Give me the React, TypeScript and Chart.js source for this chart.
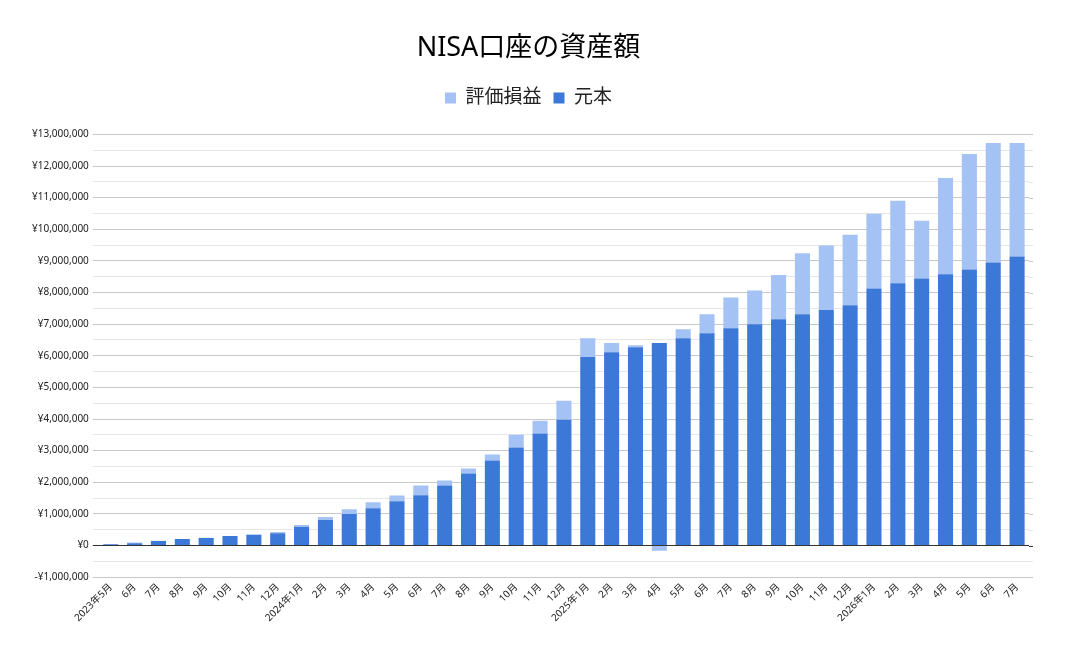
import React, { useRef, useEffect } from 'react';
import { Chart, registerables } from 'chart.js';

Chart.register(...registerables);

const months: string[] = [
  '2023年5月', '6月', '7月', '8月', '9月', '10月', '11月', '12月',
  '2024年1月', '2月', '3月', '4月', '5月', '6月', '7月', '8月', '9月', '10月', '11月', '12月',
  '2025年1月', '2月', '3月', '4月', '5月', '6月', '7月', '8月', '9月', '10月', '11月', '12月',
  '2026年1月', '2月', '3月', '4月', '5月', '6月', '7月',
];

// 元本 (principal)
const principal: number[] = [
  40000, 75000, 145000, 205000, 240000, 300000, 330000, 390000,
  590000, 810000, 1000000, 1180000, 1400000, 1590000, 1900000, 2280000, 2690000, 3100000, 3540000, 3980000,
  5960000, 6115000, 6270000, 6400000, 6555000, 6715000, 6870000, 7000000, 7155000, 7310000, 7450000, 7600000,
  8130000, 8290000, 8445000, 8575000, 8730000, 8950000, 9140000,
];

// 評価損益 (unrealised gain / loss)
const gain: number[] = [
  0, 20000, 5000, 5000, 5000, 5000, 30000, 40000,
  60000, 95000, 150000, 185000, 185000, 310000, 160000, 155000, 185000, 405000, 405000, 595000,
  595000, 285000, 65000, -165000, 285000, 595000, 975000, 1065000, 1400000, 1935000, 2035000, 2230000,
  2360000, 2610000, 1825000, 3050000, 3650000, 3777000, 3587000,
];

const FONT = "'Noto Sans', 'Noto Sans CJK JP', sans-serif";

const yen = (v: number) => (v < 0 ? '-¥' : '¥') + Math.abs(v).toLocaleString('en-US');

const gridColor = (v: number) => {
  if (v === 0) return '#333333';
  return v % 1000000 === 0 ? '#c8c8c8' : '#e6e6e6';
};

// adds some room between the legend and the plot
const legendGap = {
  id: 'legendGap',
  beforeInit(chart: any) {
    const origFit = chart.legend.fit;
    chart.legend.fit = function fit() {
      origFit.bind(chart.legend)();
      this.height += 17;
    };
  },
};

// grid lines run a little past the plot on the right
const gridTail = {
  id: 'gridTail',
  beforeDatasetsDraw(chart: any) {
    const { ctx, chartArea, scales } = chart;
    const y = scales.y;
    ctx.save();
    ctx.lineWidth = 1;
    y.ticks.forEach((t: any) => {
      const py = Math.round(y.getPixelForValue(t.value)) + 0.5;
      ctx.strokeStyle = gridColor(t.value);
      ctx.beginPath();
      ctx.moveTo(chartArea.right, py);
      ctx.lineTo(chartArea.right + 4, py);
      ctx.stroke();
    });
    ctx.restore();
  },
};

const App: React.FC = () => {
  const canvasRef = useRef<HTMLCanvasElement>(null);
  const chartRef = useRef<Chart | null>(null);

  useEffect(() => {
    const ctx = canvasRef.current?.getContext('2d');
    if (!ctx) return;
    chartRef.current = new Chart(ctx, {
      type: 'bar',
      data: {
        labels: months,
        datasets: [
          {
            label: '元本',
            data: principal,
            backgroundColor: '#3c78d8',
            categoryPercentage: 0.8,
            barPercentage: 0.79,
          },
          {
            label: '評価損益',
            data: gain,
            backgroundColor: '#a4c2f4',
            categoryPercentage: 0.8,
            barPercentage: 0.79,
          },
        ],
      },
      plugins: [legendGap, gridTail],
      options: {
        responsive: false,
        animation: false,
        layout: { padding: { left: 28, right: 37, top: 12, bottom: 32 } },
        plugins: {
          title: {
            display: true,
            text: 'NISA口座の資産額',
            color: '#000',
            font: { family: FONT, size: 27, weight: 'normal' },
            padding: { top: 20, bottom: 12 },
          },
          legend: {
            position: 'top',
            reverse: true,
            labels: {
              color: '#222',
              boxWidth: 11,
              boxHeight: 11,
              padding: 12,
              font: { family: FONT, size: 19 },
            },
          },
          tooltip: { enabled: false },
        },
        scales: {
          x: {
            stacked: true,
            grid: { display: false, drawTicks: false },
            border: { display: false },
            ticks: {
              color: '#222',
              autoSkip: false,
              maxRotation: 45,
              minRotation: 45,
              padding: 4,
              font: { family: FONT, size: 10 },
            },
          },
          y: {
            stacked: true,
            min: -1000000,
            max: 13000000,
            border: { display: false },
            grid: {
              color: (c: any) => gridColor(c.tick?.value ?? 0),
              drawTicks: true,
              tickLength: 6,
            },
            ticks: {
              stepSize: 500000,
              autoSkip: false,
              color: '#222',
              padding: 4,
              font: { family: FONT, size: 10 },
              callback: (v: any) => (Number(v) % 1000000 === 0 ? yen(Number(v)) : ''),
            },
          },
        },
      },
    });
    return () => {
      chartRef.current?.destroy();
      chartRef.current = null;
    };
  }, []);

  return (
    <div style={{ position: 'absolute', left: 0, top: 0, width: 1066, height: 660, background: '#fff' }}>
      <canvas ref={canvasRef} width={1066} height={660} />
    </div>
  );
};

export default App;
